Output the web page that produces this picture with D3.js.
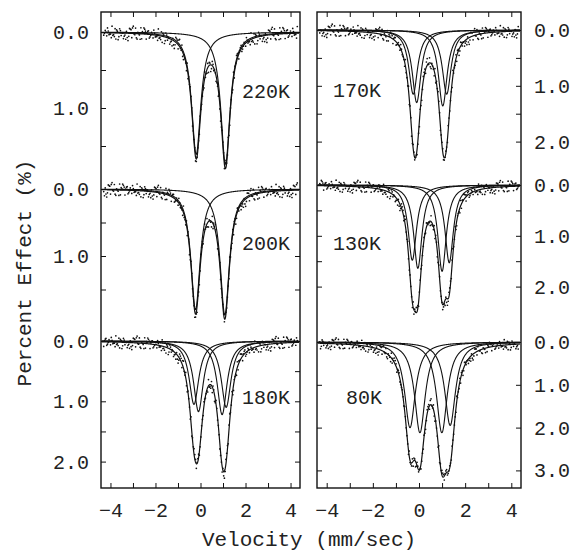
<!DOCTYPE html>
<html><head><meta charset="utf-8">
<script src="https://cdn.jsdelivr.net/npm/d3@7"></script>
<style>
body{margin:0;background:#fff}
svg{display:block}
text{font-family:"Liberation Mono",monospace;fill:#222}
</style>
</head><body>
<svg id="c" width="576" height="560"></svg>
<script>
// ---------------- data ----------------
const temperatures = ["220K","200K","180K","170K","130K","80K"];
// Lorentzian line positions (mm/sec) of each spectrum
const lineCenters = [
  [-0.19, 1.11],
  [-0.22, 1.08],
  [-0.29, -0.09, 0.96, 1.14],
  [-0.25, -0.10, 1.03, 1.20],
  [-0.29, -0.05, 1.00, 1.31],
  [-0.39, 0.04, 0.99, 1.35]
];
// Lorentzian line depths (percent effect)
const lineDepths = [
  [1.61, 1.74],
  [1.80, 1.88],
  [1.05, 1.17, 1.22, 1.10],
  [1.15, 1.30, 1.36, 1.15],
  [1.48, 1.64, 1.70, 1.53],
  [2.00, 2.12, 2.12, 1.95]
];
// half widths at half maximum (mm/sec)
const halfWidths = [0.25, 0.25, 0.26, 0.23, 0.22, 0.28];
const noiseAmp = [0.8, 0.9, 0.95, 1.0, 1.05, 1.15];
const yTicks = [
  [0, 0.5, 1, 1.5],
  [0, 0.5, 1, 1.5],
  [0, 0.5, 1, 1.5, 2],
  [0, 0.5, 1, 1.5, 2],
  [0, 0.5, 1, 1.5, 2],
  [0, 1, 2, 3]
];
const xTicks = [-4, -3, -2, -1, 0, 1, 2, 3, 4];
const xTickLabels = [-4, -2, 0, 2, 4];
const velocityDomain = [-4.42, 4.42];
const channelRange = [-4.3, 4.3];
const channelCount = 256;
// scatter of the measured counts about the fit (percent effect)
const residuals = [0.04,-0.07,0.02,0.09,-0.03,-0.10,0.05,0.01,-0.06,0.08,-0.02,0.11,-0.08,0.03,-0.04,0.07,-0.11,0.00,0.06,-0.05,0.10,-0.01,-0.09,0.04,0.02,-0.07,0.08,-0.03,0.05,-0.12,0.03,0.09,-0.04,-0.02,0.07,-0.08,0.01,0.06,-0.10,0.04,-0.05,0.12,-0.03,0.02,-0.07,0.08,-0.01,-0.06,0.05,0.03,-0.09,0.10,-0.04,0.00,0.06,-0.08,0.02,0.07,-0.05,-0.02,0.09];

// ---------------- layout ----------------
const panelX = [[101, 300], [317, 521]];
const boxTop = 12, boxBottom = 488;
const subBase = [32, 189, 341, 30, 185, 342];
const subScale = [76, 67, 60.3, 55.8, 50.8, 42.8];
const labelPos = [[242, 98], [242, 250], [242, 404], [333, 97], [333, 250], [346, 404]];
const FS = 20;

const svg = d3.select("#c");

function lorentz(v, c, d, g) { return d / (1 + ((v - c) / g) ** 2); }
function total(s, v) {
  return d3.sum(lineCenters[s], (c, j) => lorentz(v, c, lineDepths[s][j], halfWidths[s]));
}

const fine = d3.range(velocityDomain[0] + 0.03, velocityDomain[1] - 0.03, 0.01);
const channels = d3.range(channelCount).map(i => channelRange[0] + i * (channelRange[1] - channelRange[0]) / (channelCount - 1));

function styleAxis(g) {
  g.select(".domain").remove();
  g.selectAll(".tick line").attr("stroke", "#111").attr("stroke-width", 1);
  g.selectAll(".tick text").attr("font-size", FS).attr("font-family", "Liberation Mono").attr("fill", "#222");
}

[0, 1].forEach(p => {
  const x = d3.scaleLinear().domain(velocityDomain).range(panelX[p]);
  const g = svg.append("g");

  // x axes
  g.append("g").attr("transform", `translate(0,${boxBottom})`)
    .call(d3.axisBottom(x).tickValues(xTicks).tickSizeInner(-5).tickSizeOuter(0).tickPadding(15)
      .tickFormat(d => xTickLabels.includes(d) ? d3.format("d")(d) : ""))
    .call(styleAxis);
  g.append("g").attr("transform", `translate(0,${boxTop})`)
    .call(d3.axisTop(x).tickValues(xTicks).tickSizeInner(-5).tickSizeOuter(0).tickFormat(""))
    .call(styleAxis);

  for (let s = p * 3; s < p * 3 + 3; s++) {
    const y = d3.scaleLinear().domain([0, 1]).range([subBase[s], subBase[s] + subScale[s]]);
    const fmt = d => Number.isInteger(d) ? d.toFixed(1) : "";
    if (p === 0) {
      g.append("g").attr("transform", `translate(${panelX[p][0]},0)`)
        .call(d3.axisLeft(y).tickValues(yTicks[s]).tickSizeInner(-5).tickSizeOuter(0).tickPadding(12).tickFormat(fmt))
        .call(styleAxis);
      g.append("g").attr("transform", `translate(${panelX[p][1]},0)`)
        .call(d3.axisRight(y).tickValues(yTicks[s]).tickSizeInner(-5).tickSizeOuter(0).tickFormat(""))
        .call(styleAxis);
    } else {
      g.append("g").attr("transform", `translate(${panelX[p][0]},0)`)
        .call(d3.axisLeft(y).tickValues(yTicks[s]).tickSizeInner(-5).tickSizeOuter(0).tickFormat(""))
        .call(styleAxis);
      g.append("g").attr("transform", `translate(${panelX[p][1]},0)`)
        .call(d3.axisRight(y).tickValues(yTicks[s]).tickSizeInner(-5).tickSizeOuter(0).tickPadding(13).tickFormat(fmt))
        .call(styleAxis);
    }

    // data points
    g.append("g").selectAll("circle").data(channels).join("circle")
      .attr("cx", v => x(v))
      .attr("cy", (v, i) => y(total(s, v) + noiseAmp[s] * residuals[(i * 7 + s * 13) % residuals.length]))
      .attr("r", 0.85).attr("fill", "#111");

    // component lines
    const line = d3.line().x(d => x(d[0])).y(d => y(d[1]));
    lineCenters[s].forEach((c, j) => {
      g.append("path").attr("d", line(fine.map(v => [v, lorentz(v, c, lineDepths[s][j], halfWidths[s])])))
        .attr("fill", "none").attr("stroke", "#111").attr("stroke-width", 1.1);
    });
    // envelope
    g.append("path").attr("d", line(fine.map(v => [v, total(s, v)])))
      .attr("fill", "none").attr("stroke", "#111").attr("stroke-width", 1.2);

    g.append("text").attr("x", labelPos[s][0]).attr("y", labelPos[s][1])
      .attr("font-size", FS).text(temperatures[s]);
  }

  // frame
  g.append("rect").attr("x", panelX[p][0]).attr("y", boxTop)
    .attr("width", panelX[p][1] - panelX[p][0]).attr("height", boxBottom - boxTop)
    .attr("fill", "none").attr("stroke", "#111").attr("stroke-width", 1.4);
});

svg.append("text").attr("x", 309).attr("y", 546).attr("text-anchor", "middle")
  .attr("font-size", 21).text("Velocity (mm/sec)");
svg.append("text").attr("transform", "translate(31,273) rotate(-90)").attr("text-anchor", "middle")
  .attr("font-size", 21).text("Percent Effect (%)");
</script>
</body></html>
